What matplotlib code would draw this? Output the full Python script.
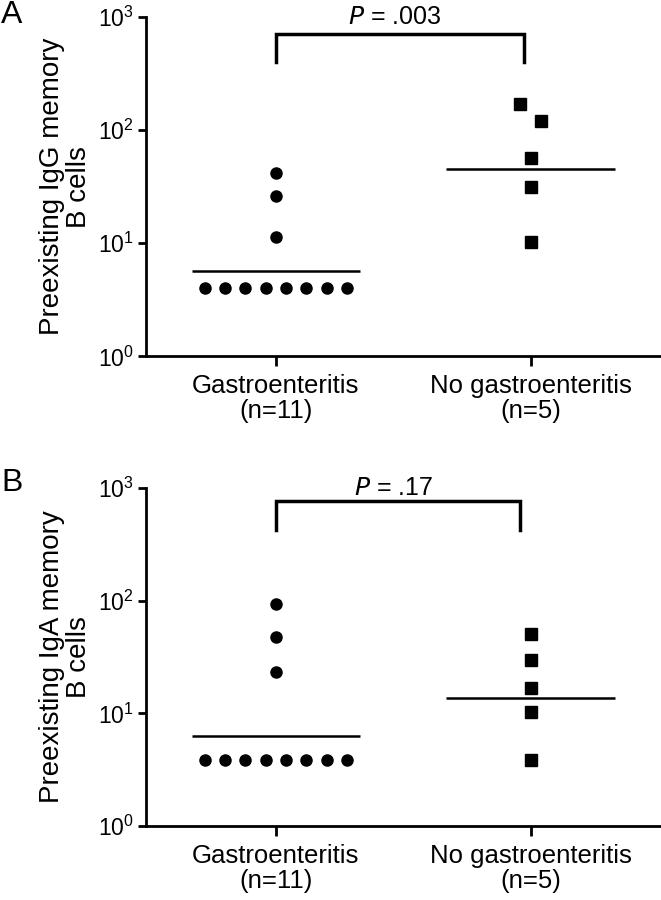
import matplotlib
matplotlib.use('Agg')
import matplotlib.pyplot as plt
import numpy as np

plt.rcParams['font.family'] = ['Liberation Sans', 'DejaVu Sans']
plt.rcParams['mathtext.default'] = 'regular'

categories = ['Gastroenteritis\n(n=11)', 'No gastroenteritis\n(n=5)']

# panel A: IgG
igg_gastro = [42, 26, 11.4, 4, 4, 4, 4, 4, 4, 4, 4]
igg_gastro_x = [0, 0, 0, -0.28, -0.20, -0.12, -0.04, 0.04, 0.12, 0.20, 0.28]
igg_nogastro = [170, 121, 56.5, 31.5, 10.3]
igg_nogastro_x = [0.96, 1.04, 1.0, 1.0, 1.0]
igg_lines = [5.7, 45.5]
igg_p = '= .003'

# panel B: IgA
iga_gastro = [94, 47.5, 23.5, 3.9, 3.9, 3.9, 3.9, 3.9, 3.9, 3.9, 3.9]
iga_gastro_x = igg_gastro_x
iga_nogastro = [51, 30, 16.8, 10.3, 3.9]
iga_nogastro_x = [1.0, 1.0, 1.0, 1.0, 1.0]
iga_lines = [6.3, 13.8]
iga_p = '= .17'

fig = plt.figure(figsize=(6.61, 9), dpi=100)
axA = fig.add_axes([0.221, 0.604, 0.778, 0.377])
axB = fig.add_axes([0.221, 0.082, 0.778, 0.376])


def panel(ax, g, gx, n, nx, lines, ptxt, ylab, brk, letter, ly):
    ax.set_yscale('log')
    ax.set_ylim(1, 1000)
    ax.set_xlim(-0.51, 1.51)
    ax.plot(gx, g, 'o', color='black', markersize=8, clip_on=False)
    ax.plot(nx, n, 's', color='black', markersize=8, clip_on=False)
    ax.hlines(lines[0], -0.33, 0.33, color='black', lw=1.8)
    ax.hlines(lines[1], 0.67, 1.33, color='black', lw=1.8)
    # significance bracket
    x0, x1, ylo, yhi = brk
    ax.plot([x0, x0, x1, x1], [ylo, yhi, yhi, ylo], color='black', lw=2.5,
            clip_on=False, solid_joinstyle='miter')
    ax.text((x0 + x1) / 2 - 0.02, 1000, '$\\it{P}$ ' + ptxt, ha='center',
            va='center', fontsize=18)
    ax.set_xticks([0, 1])
    ax.set_xticklabels(categories, fontsize=18.5, linespacing=1.05)
    ax.set_yticks([1, 10, 100, 1000])
    ax.set_yticklabels(['$10^0$', '$10^1$', '$10^2$', '$10^3$'], fontsize=16.5)
    ax.yaxis.set_minor_locator(matplotlib.ticker.NullLocator())
    ax.set_ylabel(ylab, fontsize=20, labelpad=4, linespacing=1.05)
    for s in ['top', 'right']:
        ax.spines[s].set_visible(False)
    for s in ['left', 'bottom']:
        ax.spines[s].set_linewidth(2)
    ax.tick_params(axis='y', width=2, length=6, direction='out', pad=3)
    ax.tick_params(axis='x', width=2, length=7, direction='out', pad=6)
    fig.text(0.002, ly, letter, fontsize=23, ha='left', va='center')


panel(axA, igg_gastro, igg_gastro_x, igg_nogastro, igg_nogastro_x, igg_lines,
      igg_p, 'Preexisting IgG memory\nB cells', (0, 0.975, 402, 716), 'A', 0.983)
panel(axB, iga_gastro, iga_gastro_x, iga_nogastro, iga_nogastro_x, iga_lines,
      iga_p, 'Preexisting IgA memory\nB cells', (0, 0.96, 420, 766), 'B', 0.463)

fig.savefig('out.png', dpi=100)
